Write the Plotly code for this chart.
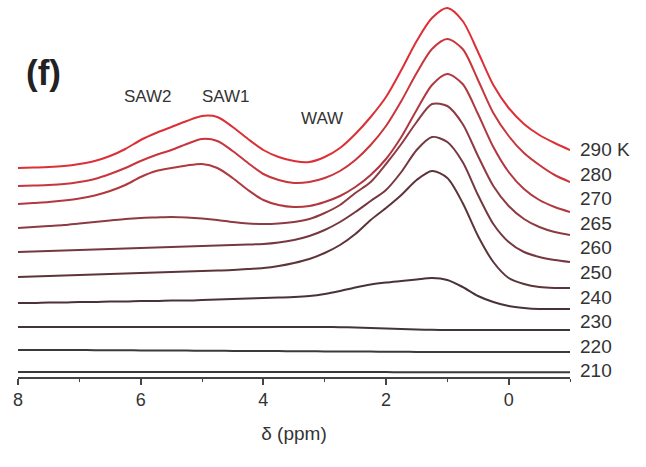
import plotly.graph_objects as go

# Chemical shift grid (ppm), high to low
delta = [8.0, 7.75, 7.5, 7.25, 7.0, 6.75, 6.5, 6.25, 6.0, 5.75, 5.5, 5.25, 5.0,
         4.75, 4.5, 4.25, 4.0, 3.75, 3.5, 3.25, 3.0, 2.75, 2.5, 2.25, 2.0, 1.75,
         1.5, 1.25, 1.0, 0.75, 0.5, 0.25, 0.0, -0.25, -0.5, -0.75, -1.0]

# Stacked 1H NMR intensities (a.u.) for each temperature
i_290 = [209, 209.5, 210, 211, 213, 216, 221, 228, 237, 244, 250, 256, 261, 260, 250, 238, 227, 220, 216, 215,
         220, 229, 243, 260, 280, 307, 336, 359, 369, 356, 325, 292, 269, 253, 242, 234, 227]
i_280 = [191, 191.5, 192, 193, 195, 198, 203, 209, 216, 222, 227, 233, 238, 236, 226, 214, 203, 197, 194, 195,
         199, 206, 217, 232, 251, 276, 304, 328, 338, 328, 297, 264, 241, 224, 212, 202, 195]
i_270 = [173, 174, 175, 176.5, 178.5, 181.5, 186, 192, 200, 206, 209, 211.5, 213, 209, 199, 187, 177, 172, 170, 171,
         175, 181, 190, 202, 218, 240, 267, 292, 303, 293, 263, 230, 205, 188, 177, 170, 165]
i_265 = [149, 150, 151, 152, 153.5, 155, 156.5, 158, 159, 159.5, 160, 159.5, 158.5, 157, 155, 153.5, 153, 153.5, 155, 158,
         164, 172, 184, 195, 213, 233, 255, 273, 271, 253, 221, 191, 171, 158, 150, 145, 142]
i_260 = [125, 125.5, 126, 126.5, 127, 127.5, 128, 128.5, 129, 129.5, 130, 130.5, 131, 131.5, 132, 132.5, 133, 134.5, 137, 141,
         147, 155, 165, 176, 187, 205, 227, 240, 235, 215, 182, 153, 135, 125, 120, 117, 115]
i_250 = [100, 100.5, 101, 101.5, 102, 102.5, 103, 103.5, 104, 104.5, 105, 105.5, 106, 106.5, 107, 108, 109, 111, 114, 118,
         124, 132, 143, 157, 169, 182, 197, 206, 199, 174, 141, 115, 99, 93, 90, 89, 89]
i_240 = [74, 74, 74.5, 74.5, 75, 75, 75.5, 75.5, 76, 76, 76.5, 76.5, 77, 77.5, 78, 78.5, 79, 79.5, 80, 81,
         83, 86, 89.5, 92.5, 94.5, 96, 97.5, 99, 97, 90, 81, 75, 71, 69, 68, 68, 68]
i_230 = [50, 50, 50, 50, 50, 50, 50, 50, 50, 50, 50, 50, 50, 50, 50, 50, 50, 50, 50, 50,
         50, 49.8, 49.5, 49, 48.5, 48, 47.5, 47.2, 47, 47, 47, 47, 47, 47, 47, 47, 47]
i_220 = [27, 27, 27, 27, 27, 26.8, 26.8, 26.7, 26.6, 26.5, 26.5, 26.4, 26.3, 26.2, 26.1, 26, 26, 25.9, 25.8, 25.7,
         25.6, 25.5, 25.5, 25.4, 25.3, 25.2, 25.1, 25, 25, 25, 25, 25, 25, 25, 25, 25, 25]
i_210 = [5, 5, 5, 5, 5, 5, 5, 5, 5, 5, 5, 5, 5, 5, 5, 5, 5, 5, 5, 5,
         4.9, 4.9, 4.9, 4.9, 4.9, 4.8, 4.8, 4.8, 4.8, 4.8, 4.7, 4.7, 4.7, 4.7, 4.7, 4.7, 4.7]

temps = ["290 K", "280", "270", "265", "260", "250", "240", "230", "220", "210"]
spectra = [i_290, i_280, i_270, i_265, i_260, i_250, i_240, i_230, i_220, i_210]

# warm spectra in red, cold ones fading to dark grey
colors = ["#dc2f36", "#c8353c", "#b0383f", "#8e3a42", "#763840", "#5c3439", "#4a3337",
          "#3f3638", "#3b3a3b", "#3b3a3b"]

fig = go.Figure()
for name, ys, c in zip(temps, spectra, colors):
    fig.add_trace(go.Scatter(x=delta, y=ys, mode="lines", name=name,
                             line=dict(color=c, width=2, shape="spline", smoothing=0.8),
                             hoverinfo="skip"))

txt = "#333333"
font_family = "Liberation Sans, Arial, sans-serif"

# temperature labels on the right, evenly stacked
label_top, label_step = 227.5, 24.6
annotations = []
for k, name in enumerate(temps):
    annotations.append(dict(x=1.014, xref="paper", y=label_top - k * label_step, yref="y",
                            text=name, showarrow=False, xanchor="left", yanchor="middle",
                            font=dict(size=19, color=txt, family=font_family)))

# peak assignments and panel tag
annotations += [
    dict(x=5.88, y=281, xref="x", yref="y", text="SAW2", showarrow=False,
         xanchor="center", yanchor="middle",
         font=dict(size=17, color=txt, family=font_family)),
    dict(x=4.61, y=281, xref="x", yref="y", text="SAW1", showarrow=False,
         xanchor="center", yanchor="middle",
         font=dict(size=17, color=txt, family=font_family)),
    dict(x=3.04, y=259, xref="x", yref="y", text="WAW", showarrow=False,
         xanchor="center", yanchor="middle",
         font=dict(size=17, color=txt, family=font_family)),
    dict(x=0.047, xref="paper", y=305, yref="y", text="<b>(f)</b>", showarrow=False,
         xanchor="center", yanchor="middle",
         font=dict(size=35, color="#222222", family=font_family)),
]

fig.update_layout(
    width=646, height=467,
    margin=dict(l=18, r=76, t=0, b=90),
    plot_bgcolor="white", paper_bgcolor="white",
    showlegend=False,
    annotations=annotations,
    xaxis=dict(
        range=[8, -1], tickvals=[8, 6, 4, 2, 0],
        ticks="outside", ticklen=6, tickwidth=1.5, tickcolor="#444444",
        showline=True, linecolor="#444444", linewidth=1.5,
        showgrid=False, zeroline=False,
        tickfont=dict(size=18, color=txt, family=font_family),
        minor=dict(tickvals=[7, 5, 3, 1, -1], ticks="outside", ticklen=3,
                   tickwidth=1.2, tickcolor="#444444"),
        title=dict(text="δ (ppm)", font=dict(size=19, color=txt, family=font_family),
                   standoff=17),
    ),
    yaxis=dict(visible=False, range=[0, 377]),
)

fig.write_html("out.html")
